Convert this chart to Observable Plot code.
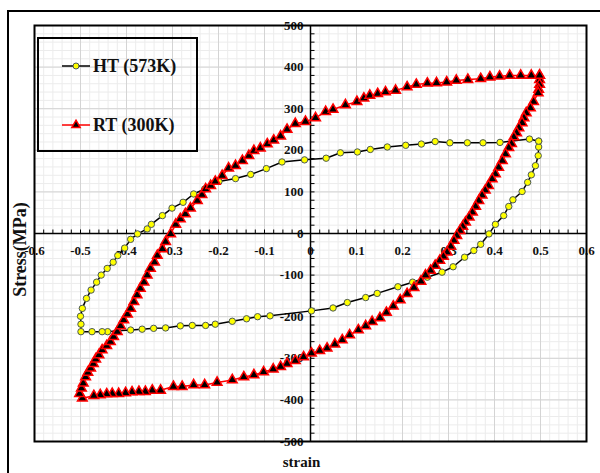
<!DOCTYPE html>
<html><head><meta charset="utf-8">
<script src="https://cdn.jsdelivr.net/npm/d3@7"></script>
<script src="https://cdn.jsdelivr.net/npm/@observablehq/plot@0.6"></script>
<style>
body{margin:0;background:#fff;}
#wrap{position:relative;width:600px;height:473px;overflow:hidden;font-family:"Liberation Serif",serif;}
#chart{position:absolute;left:0;top:0;}
#border{position:absolute;left:7px;top:10px;width:640px;height:520px;border:2px solid #000;}
#legend{position:absolute;left:37px;top:37px;width:157px;height:111px;border:2px solid #000;}
</style></head>
<body><div id="wrap"><div id="chart"></div><div id="legend"></div><div id="border"></div></div>
<script>
// ---- data ----
const seriesNames = ["HT (573K)", "RT (300K)"];
const htStrain = [0.496,0.496,0.495,0.489,0.480,0.472,0.460,0.440,0.431,0.420,
  0.402,0.388,0.370,0.355,0.335,0.310,0.286,0.254,0.222,0.190,
  0.145,0.120,0.080,0.049,0.002,-0.088,-0.115,-0.139,-0.170,-0.207,
  -0.228,-0.257,-0.283,-0.315,-0.341,-0.366,-0.391,-0.419,-0.441,-0.453,
  -0.475,-0.499,-0.499,-0.500,-0.496,-0.487,-0.477,-0.465,-0.455,-0.442,
  -0.429,-0.419,-0.404,-0.391,-0.376,-0.355,-0.346,-0.322,-0.301,-0.277,
  -0.254,-0.230,-0.199,-0.163,-0.130,-0.096,-0.062,-0.013,0.034,0.065,
  0.102,0.130,0.167,0.207,0.241,0.271,0.303,0.341,0.375,0.412,
  0.476,0.496];
const htStress = [222,208,187,163,141,123,101,81,65,43,
  22,-1,-26,-41,-57,-80,-93,-105,-117,-128,
  -144,-154,-166,-179,-186,-198,-200,-205,-211,-218,
  -221,-221,-222,-227,-228,-230,-232,-234,-236,-236,
  -236,-236,-218,-199,-180,-156,-136,-117,-100,-84,
  -69,-53,-35,-14,-1,11,22,43,61,75,
  95,107,125,132,142,156,172,177,181,194,
  196,202,208,212,215,221,218,218,218,219,
  227,222];
const rtStrain = [0.498,0.498,0.498,0.496,0.495,0.485,0.478,0.469,0.464,0.460,
  0.453,0.448,0.442,0.437,0.431,0.424,0.417,0.409,0.402,0.395,
  0.387,0.380,0.373,0.366,0.359,0.352,0.345,0.337,0.331,0.325,
  0.318,0.312,0.305,0.297,0.289,0.281,0.271,0.261,0.250,0.240,
  0.225,0.210,0.195,0.180,0.165,0.151,0.134,0.120,0.104,0.085,
  0.069,0.053,0.036,0.020,0.002,-0.015,-0.033,-0.051,-0.065,-0.081,
  -0.102,-0.123,-0.145,-0.170,-0.203,-0.230,-0.254,-0.279,-0.298,-0.326,
  -0.344,-0.359,-0.373,-0.388,-0.402,-0.417,-0.431,-0.443,-0.457,-0.471,
  -0.496,-0.502,-0.498,-0.494,-0.489,-0.484,-0.478,-0.472,-0.467,-0.460,
  -0.453,-0.443,-0.435,-0.428,-0.420,-0.413,-0.406,-0.398,-0.391,-0.384,
  -0.377,-0.370,-0.362,-0.355,-0.348,-0.339,-0.333,-0.322,-0.315,-0.304,
  -0.293,-0.283,-0.272,-0.261,-0.246,-0.236,-0.228,-0.217,-0.207,-0.192,
  -0.178,-0.163,-0.148,-0.134,-0.123,-0.109,-0.094,-0.080,-0.065,-0.051,
  -0.033,-0.011,0.011,0.033,0.049,0.076,0.101,0.116,0.129,0.146,
  0.163,0.185,0.210,0.230,0.254,0.274,0.296,0.317,0.342,0.370,
  0.390,0.411,0.433,0.457,0.480,0.498];
const rtStress = [380,370,358,346,338,317,302,290,278,266,
  254,242,232,216,206,191,175,159,143,131,
  115,104,92,79,65,51,39,27,17,7,
  -5,-17,-31,-45,-55,-65,-77,-89,-100,-115,
  -130,-145,-160,-175,-190,-203,-212,-222,-232,-244,
  -256,-266,-276,-282,-288,-297,-306,-313,-320,-326,
  -333,-340,-345,-352,-358,-364,-364,-368,-368,-377,
  -377,-380,-380,-381,-383,-385,-385,-386,-388,-390,
  -396,-385,-372,-360,-345,-334,-324,-313,-302,-292,
  -280,-270,-260,-248,-236,-222,-208,-194,-180,-164,
  -148,-132,-117,-100,-84,-69,-53,-37,-20,-1,
  22,35,47,61,79,93,107,115,125,139,
  157,163,175,187,199,205,215,224,234,250,
  264,269,278,293,298,309,317,325,332,336,
  340,344,352,358,361,362,364,368,370,372,
  376,378,380,380,380,380];
const xTicks = [-0.6,-0.5,-0.4,-0.3,-0.2,-0.1,0,0.1,0.2,0.3,0.4,0.5,0.6];
const xTickLabels = ["-0.6","-0.5","-0.4","-0.3","-0.2","-0.1","0","0.1","0.2","0.3","0.4","0.5","0.6"];
const yTicks = [-500,-400,-300,-200,-100,0,100,200,300,400,500];
const yTickLabels = ["-500","-400","-300","-200","-100","0","100","200","300","400","500"];
const xTitle = "strain";
const yTitle = "Stress(MPa)";

// ---- styles ----
const htLine = "#000000", htFill = "#ffff00", htEdge = "#4a5858";
const rtLine = "#ff0000", rtFill = "#000000";
const font = '"Liberation Serif", "Times New Roman", serif';

const ht = htStrain.map((s, i) => ({strain: s, stress: htStress[i]}));
const rt = rtStrain.map((s, i) => ({strain: s, stress: rtStress[i]}));
const xMinor = d3.range(-30, 31).map(k => k * 0.02);
const yMinor = d3.range(-25, 26).map(k => k * 20);

const tickUp = {draw(ctx) { ctx.moveTo(0, 0); ctx.lineTo(0, -4); }};
const tickRight = {draw(ctx) { ctx.moveTo(0, 0); ctx.lineTo(4, 0); }};

const chart = Plot.plot({
  width: 600, height: 473,
  marginLeft: 34, marginRight: 14, marginTop: 25, marginBottom: 32,
  x: {domain: [-0.6, 0.6], axis: null},
  y: {domain: [-500, 500], axis: null},
  style: {fontFamily: font, background: "transparent", overflow: "visible"},
  marks: [
    Plot.ruleX(xMinor, {stroke: "#ececec", strokeWidth: 1}),
    Plot.ruleY(yMinor, {stroke: "#ececec", strokeWidth: 1}),
    Plot.ruleX(xTicks, {stroke: "#d4d4d4", strokeWidth: 1}),
    Plot.ruleY(yTicks, {stroke: "#d4d4d4", strokeWidth: 1}),
    Plot.ruleY([0], {stroke: "#000", strokeWidth: 1.5}),
    Plot.ruleX([0], {stroke: "#000", strokeWidth: 1.5}),
    Plot.dot(xMinor, {x: d => d, y: () => 0, symbol: tickUp, fill: "none", stroke: "#000", strokeWidth: 1}),
    Plot.dot(yMinor, {x: () => 0, y: d => d, symbol: tickRight, fill: "none", stroke: "#000", strokeWidth: 1}),
    Plot.text(xTicks, {x: d => d, y: () => 0, text: (d, i) => xTickLabels[i], dy: 17, fontSize: 13, fontWeight: "bold", fill: "#111"}),
    Plot.text(yTicks, {x: () => 0, y: d => d, text: (d, i) => yTickLabels[i], textAnchor: "end", dx: -7, fontSize: 13, fontWeight: "bold", fill: "#111"}),
    Plot.frame({stroke: "#000", strokeWidth: 2}),
    Plot.line(ht, {x: "strain", y: "stress", stroke: htLine, strokeWidth: 1.5}),
    Plot.dot(ht, {x: "strain", y: "stress", r: 3.2, fill: htFill, stroke: htEdge, strokeWidth: 1}),
    Plot.line(rt, {x: "strain", y: "stress", stroke: rtLine, strokeWidth: 1.5}),
    Plot.dot(rt, {x: "strain", y: "stress", symbol: "triangle", r: 3.6, fill: rtFill, stroke: rtLine, strokeWidth: 1.5}),
    Plot.text([xTitle], {frameAnchor: "bottom", lineAnchor: "middle", dy: 21, dx: -9, fontSize: 15, fontWeight: "bold", fill: "#111"}),
    Plot.text([yTitle], {frameAnchor: "left", textAnchor: "middle", lineAnchor: "middle", rotate: -90, dx: -14, dy: 16, fontSize: 18, fontWeight: "bold", fill: "#111"})
  ]
});
document.getElementById("chart").appendChild(chart);

// ---- legend ----
const leg = d3.select("#legend").append("svg").attr("width", 157).attr("height", 111)
  .style("font-family", font).style("overflow", "visible");
const rows = [
  {name: seriesNames[0], y: 27, line: htLine, kind: "circle"},
  {name: seriesNames[1], y: 86, line: rtLine, kind: "triangle"}
];
for (const r of rows) {
  leg.append("line").attr("x1", 23).attr("x2", 51).attr("y1", r.y).attr("y2", r.y)
    .attr("stroke", r.line).attr("stroke-width", 1.5);
  if (r.kind === "circle") {
    leg.append("circle").attr("cx", 37).attr("cy", r.y).attr("r", 3).attr("fill", htFill).attr("stroke", htEdge);
  } else {
    leg.append("path").attr("d", d3.symbol(d3.symbolTriangle, 30)()).attr("transform", `translate(37,${r.y})`)
      .attr("fill", rtFill).attr("stroke", rtLine).attr("stroke-width", 1.5);
  }
  leg.append("text").attr("x", 54).attr("y", r.y).attr("dy", "0.35em").attr("font-size", 18)
    .attr("font-weight", "bold").attr("fill", "#111").text(r.name);
}
</script>
</body></html>
